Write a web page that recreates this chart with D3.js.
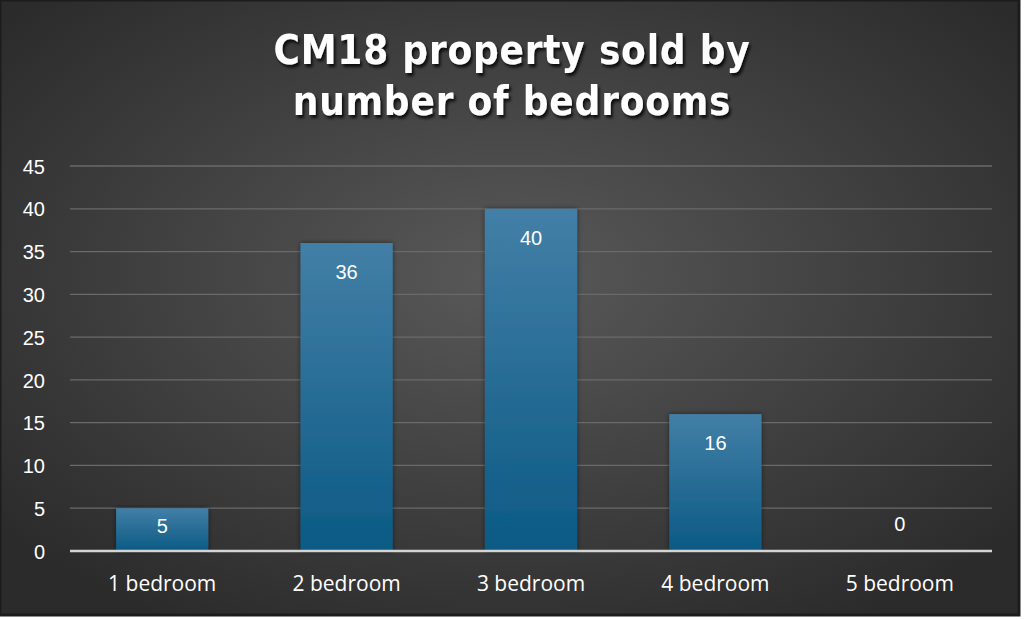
<!DOCTYPE html>
<html><head><meta charset="utf-8">
<script src="https://cdn.jsdelivr.net/npm/d3@7"></script>
<style>html,body{margin:0;padding:0;background:#fff;overflow:hidden}</style>
</head><body>
<svg id="c" width="1024" height="619"></svg>
<script>
const categories = ["1 bedroom","2 bedroom","3 bedroom","4 bedroom","5 bedroom"];
const values = [5,36,40,16,0];
const yTicks = [0,5,10,15,20,25,30,35,40,45];
const titleLines = ["CM18 property sold by","number of bedrooms"];

const svg = d3.select("#c");
const W = 1019, H = 615;
const defs = svg.append("defs");
const rg = defs.append("radialGradient").attr("id","bg").attr("cx","50%").attr("cy","45%").attr("r","65%");
rg.append("stop").attr("offset","0%").attr("stop-color","#595959");
rg.append("stop").attr("offset","100%").attr("stop-color","#2b2b2b");
const bg = defs.append("linearGradient").attr("id","bar").attr("x1",0).attr("y1",0).attr("x2",0).attr("y2",1);
bg.append("stop").attr("offset","0%").attr("stop-color","#437fa6");
bg.append("stop").attr("offset","100%").attr("stop-color","#0b5a85");
const f = defs.append("filter").attr("id","sh").attr("x","-10%").attr("y","-10%").attr("width","130%").attr("height","140%");
f.append("feDropShadow").attr("dx",2).attr("dy",3).attr("stdDeviation",1.5).attr("flood-color","#000").attr("flood-opacity",0.8);
const fb = defs.append("filter").attr("id","bsh").attr("x","-20%").attr("y","-10%").attr("width","140%").attr("height","120%");
fb.append("feDropShadow").attr("dx",0).attr("dy",0).attr("stdDeviation",2.5).attr("flood-color","#000").attr("flood-opacity",0.5);

svg.append("rect").attr("x",0).attr("y",0).attr("width",W).attr("height",H).attr("fill","url(#bg)")
  .attr("stroke","#1c1c1c").attr("stroke-width",3);

const m = {l:70, r:992, t:166, b:551};
const x = d3.scaleBand().domain(categories).range([m.l,m.r]).paddingInner(0.5).paddingOuter(0.25);
const y = d3.scaleLinear().domain([0,45]).range([m.b,m.t]);

// gridlines
svg.append("g").selectAll("line").data(yTicks.filter(d=>d>0)).join("line")
  .attr("x1",m.l).attr("x2",m.r).attr("y1",d=>y(d)).attr("y2",d=>y(d))
  .attr("stroke","#6a6a6a").attr("stroke-width",1.3);

// y tick labels
const yAxis = d3.axisLeft(y).tickValues(yTicks).tickSize(0).tickPadding(0);
const ya = svg.append("g").attr("transform",`translate(45,0)`).call(yAxis);
ya.select(".domain").remove();
ya.selectAll("text").attr("fill","#fff").attr("font-family","Liberation Sans, Arial, sans-serif").attr("font-size",20).attr("dy","0.36em");

// bars
svg.append("g").selectAll("rect").data(values).join("rect")
  .attr("x",(d,i)=>x(categories[i])).attr("width",x.bandwidth())
  .attr("y",d=>y(d)).attr("height",d=>y(0)-y(d))
  .attr("fill","url(#bar)").attr("filter","url(#bsh)");

// baseline
svg.append("line").attr("x1",m.l).attr("x2",m.r).attr("y1",y(0)).attr("y2",y(0))
  .attr("stroke","#d4d4d4").attr("stroke-width",2.5);

// data labels
svg.append("g").selectAll("text").data(values).join("text")
  .attr("x",(d,i)=>x(categories[i])+x.bandwidth()/2)
  .attr("y",d=> d>=3 ? Math.min(y(d)+36, (y(d)+y(0))/2 + 3) : y(d)-20)
  .attr("text-anchor","middle").attr("fill","#fff")
  .attr("font-family","Liberation Sans, Arial, sans-serif").attr("font-size",20)
  .text(d=>d);

// x labels
const xAxis = d3.axisBottom(x).tickSize(0).tickPadding(0);
const xa = svg.append("g").attr("transform",`translate(0,${m.b})`).call(xAxis);
xa.select(".domain").remove();
xa.selectAll("text").attr("fill","#fff").attr("font-family","Open Sans, sans-serif").attr("font-size",21).attr("dy","1.9em");

// title
svg.append("g").selectAll("text").data(titleLines).join("text")
  .attr("x",512).attr("y",(d,i)=>64+i*51).attr("text-anchor","middle")
  .attr("fill","#fff").attr("font-family","DejaVu Sans Condensed, DejaVu Sans, sans-serif")
  .attr("font-weight","bold").attr("font-size",40).attr("letter-spacing",0.8).attr("filter","url(#sh)")
  .text(d=>d);
</script>
</body></html>
